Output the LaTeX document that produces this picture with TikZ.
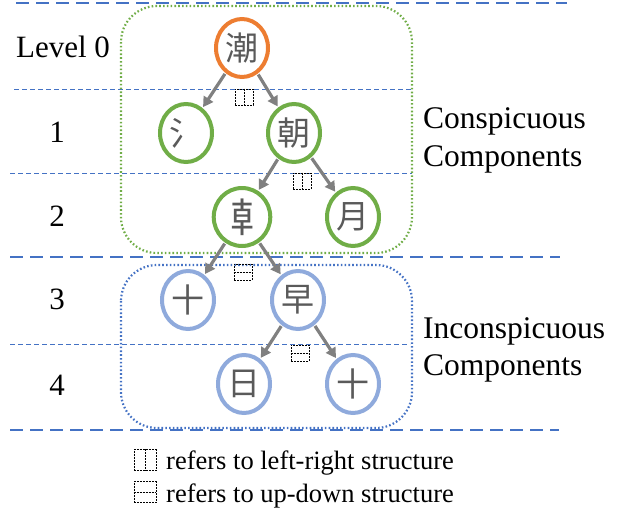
\documentclass[tikz,border=0pt]{standalone}
\usepackage{fontspec}
\setmainfont{Liberation Serif}
\newfontfamily\cjk{Noto Sans CJK SC}
\usetikzlibrary{shapes.geometric,arrows.meta}

\definecolor{levelblue}{RGB}{68,114,196}
\definecolor{consgreen}{RGB}{112,173,71}
\definecolor{rootorange}{RGB}{237,125,49}
\definecolor{incblue}{RGB}{143,170,220}
\definecolor{arrowgray}{RGB}{128,128,128}
\definecolor{glyphgray}{RGB}{90,90,90}

\tikzset{
  x=1pt, y=-1pt,
  charnode/.style={ellipse, draw, line width=4pt, minimum width=52pt,
    minimum height=58pt, inner sep=0pt, text=glyphgray,
    font=\cjk\fontsize{33}{33}\selectfont},
  rootnode/.style={charnode, draw=rootorange},
  consnode/.style={charnode, draw=consgreen},
  incnode/.style={charnode, draw=incblue},
  edge/.style={draw=arrowgray, line width=3.2pt,
    -{Triangle[length=10pt,width=11pt]}, shorten <=1pt, shorten >=1pt},
  majorsep/.style={draw=levelblue, line width=2.4pt, dash pattern=on 13pt off 7pt},
  minorsep/.style={draw=levelblue, line width=0.9pt, dash pattern=on 5pt off 3pt},
  groupbox/.style={line width=2.2pt, dash pattern=on 1.6pt off 2.2pt, rounded corners=36pt},
  levellabel/.style={font=\fontsize{31}{31}\selectfont, anchor=base},
  grouplabel/.style={font=\fontsize{31.5}{38}\selectfont, anchor=base west, align=left, inner sep=0pt},
  structmark/.style={line width=0.8pt, dash pattern=on 2pt off 1pt},
  structbox/.style={draw, structmark, minimum width=18pt, minimum height=16pt, inner sep=0pt},
  legendbox/.style={structbox, minimum width=22pt, minimum height=21pt},
  legendtext/.style={font=\fontsize{26.5}{26.5}\selectfont, anchor=base west, inner sep=0pt},
}

\begin{document}
\begin{tikzpicture}
\useasboundingbox (0,0) rectangle (619,507);

% level separators
\draw[majorsep] (16,3) -- (567,3);
\draw[minorsep] (14,89) -- (412,89);
\draw[minorsep] (10,173) -- (412,173);
\draw[majorsep] (10,257) -- (560,257);
\draw[minorsep] (10,344) -- (410,344);
\draw[majorsep] (10,430) -- (559,430);

% component groups
\draw[groupbox, draw=consgreen] (121,6) rectangle (412,253);
\draw[groupbox, draw=levelblue] (121,265) rectangle (412,428);

% level labels
\node[levellabel] (l0) at (63,57) {Level 0};
\node[levellabel] (l1) at (57,142) {1};
\node[levellabel] (l2) at (57,226) {2};
\node[levellabel] (l3) at (57,309) {3};
\node[levellabel] (l4) at (57,395) {4};

% group labels
\node[grouplabel] (cons) at (423,128) {Conspicuous};
\node[grouplabel] (cons2) at (423,166) {Components};
\node[grouplabel] (incons) at (423,338) {Inconspicuous};
\node[grouplabel] (incons2) at (423,375) {Components};

% decomposition tree
\node[rootnode] (chao) at (242,48) {潮};
\node[consnode] (shui) at (186,133) {氵};
\node[consnode] (zhao) at (294,133) {朝};
\node[consnode, font=\cjk\fontsize{40}{40}\selectfont] (gan) at (242,217) {𠦝};
\node[consnode] (yue) at (353,217) {月};
\node[incnode] (shi1) at (188,300) {十};
\node[incnode] (zao) at (298,300) {早};
\node[incnode] (ri) at (244,384) {日};
\node[incnode] (shi2) at (353,384) {十};

\path[edge] (chao) -- (shui);
\path[edge] (chao) -- (zhao);
\path[edge] (zhao) -- (gan);
\path[edge] (zhao) -- (yue);
\path[edge] (gan) -- (shi1);
\path[edge] (gan) -- (zao);
\path[edge] (zao) -- (ri);
\path[edge] (zao) -- (shi2);

% structure markers
\node[structbox] (s1) at (244,97) {};
\draw[structmark] (s1.north) -- (s1.south);
\node[structbox] (s2) at (302,181) {};
\draw[structmark] (s2.north) -- (s2.south);
\node[structbox] (s3) at (243,272) {};
\draw[structmark] (s3.west) -- (s3.east);
\node[structbox] (s4) at (300,353) {};
\draw[structmark] (s4.west) -- (s4.east);

% legend
\node[legendbox] (k1) at (145,460) {};
\draw[structmark] (k1.north) -- (k1.south);
\node[legendtext] (t1) at (166,469) {refers to left-right structure};
\node[legendbox] (k2) at (145,492) {};
\draw[structmark] (k2.west) -- (k2.east);
\node[legendtext] (t2) at (166,502) {refers to up-down structure};
\end{tikzpicture}
\end{document}
